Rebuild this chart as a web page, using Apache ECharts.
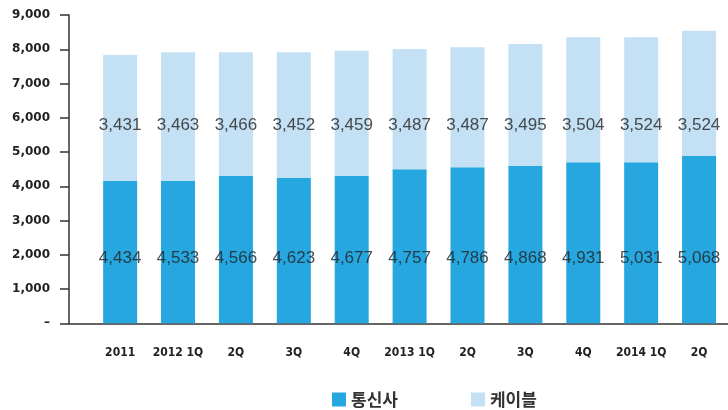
<!DOCTYPE html>
<html>
<head>
<meta charset="utf-8">
<script src="https://cdn.jsdelivr.net/npm/echarts@6/dist/echarts.min.js"></script>
<style>
  html, body { margin: 0; padding: 0; background: #fff; }
  #chart { width: 728px; height: 410px; }
</style>
</head>
<body>
<div id="chart"></div>
<script>
// categories (quarters)
const categories = ['2011', '2012 1Q', '2Q', '3Q', '4Q', '2013 1Q', '2Q', '3Q', '4Q', '2014 1Q', '2Q']

// bar heights as drawn in the picture
const carrierBars = [4154, 4154, 4300, 4250, 4300, 4495, 4553, 4591, 4699, 4699, 4883]
const cableBars = [3677, 3756, 3610, 3660, 3657, 3511, 3503, 3561, 3649, 3649, 3658]

// printed value labels
const carrierLabels = [4434, 4533, 4566, 4623, 4677, 4757, 4786, 4868, 4931, 5031, 5068]
const cableLabels = [3431, 3463, 3466, 3452, 3459, 3487, 3487, 3495, 3504, 3524, 3524]

const yTicks = [0, 1000, 2000, 3000, 4000, 5000, 6000, 7000, 8000, 9000]

const BLUE = '#27a7e0'
const LIGHT = '#c4e0f4'
const fmt = v => v.toLocaleString('en-US')

const chart = echarts.init(document.getElementById('chart'))

const option = {
  animation: false,
  legend: {
    left: 327,
    top: 386,
    itemWidth: 14,
    itemHeight: 14,
    itemGap: 73,
    icon: 'rect',
    textStyle: {
      fontFamily: 'Noto Sans CJK KR',
      fontSize: 17,
      fontWeight: 'bold',
      color: '#333'
    },
    data: ['통신사', '케이블']
  },
  grid: [
    { left: 69, right: 0, top: 15, bottom: 86.7 },
    { left: 91.2, width: 640.6, top: 15, bottom: 86.7 }
  ],
  xAxis: [
    {
      gridIndex: 0,
      type: 'value',
      min: 0,
      max: 1,
      axisLine: { show: true, lineStyle: { color: '#333', width: 1.5 } },
      axisTick: { show: false },
      axisLabel: { show: false },
      splitLine: { show: false }
    },
    {
      gridIndex: 1,
      type: 'category',
      data: categories,
      axisLine: { show: false },
      axisTick: { show: false },
      axisLabel: {
        interval: 0,
        margin: 24,
        fontFamily: 'DejaVu Sans Condensed',
        fontSize: 12,
        fontWeight: 'bold',
        color: '#222'
      }
    }
  ],
  yAxis: [
    {
      gridIndex: 0,
      type: 'value',
      min: yTicks[0],
      max: yTicks[yTicks.length - 1],
      interval: 1000,
      axisLine: { show: true, lineStyle: { color: '#333', width: 1.5 } },
      axisTick: { show: true, length: 9, lineStyle: { color: '#333', width: 1.5 } },
      splitLine: { show: false },
      axisLabel: {
        margin: 19,
        fontFamily: 'DejaVu Sans',
        fontSize: 12,
        fontWeight: 'bold',
        color: '#222',
        formatter: v => (v === 0 ? '–' : fmt(v))
      }
    },
    {
      gridIndex: 1,
      type: 'value',
      min: yTicks[0],
      max: yTicks[yTicks.length - 1],
      show: false
    }
  ],
  series: [
    {
      name: '통신사',
      type: 'bar',
      xAxisIndex: 1,
      yAxisIndex: 1,
      stack: 'total',
      barWidth: 34,
      itemStyle: { color: BLUE },
      data: carrierBars
    },
    {
      name: '케이블',
      type: 'bar',
      xAxisIndex: 1,
      yAxisIndex: 1,
      stack: 'total',
      barWidth: 34,
      itemStyle: { color: LIGHT },
      data: cableBars
    },
    {
      type: 'scatter',
      xAxisIndex: 1,
      yAxisIndex: 1,
      symbolSize: 0,
      silent: true,
      label: {
        show: true,
        position: 'inside',
        fontFamily: 'Liberation Sans',
        fontSize: 17,
        color: '#222',
        formatter: p => fmt(carrierLabels[p.dataIndex])
      },
      data: carrierLabels.map(() => 1900)
    },
    {
      type: 'scatter',
      xAxisIndex: 1,
      yAxisIndex: 1,
      symbolSize: 0,
      silent: true,
      label: {
        show: true,
        position: 'inside',
        fontFamily: 'Liberation Sans',
        fontSize: 17,
        color: '#222',
        formatter: p => fmt(cableLabels[p.dataIndex])
      },
      data: cableLabels.map(() => 5780)
    }
  ]
}

chart.setOption(option)
</script>
</body>
</html>
